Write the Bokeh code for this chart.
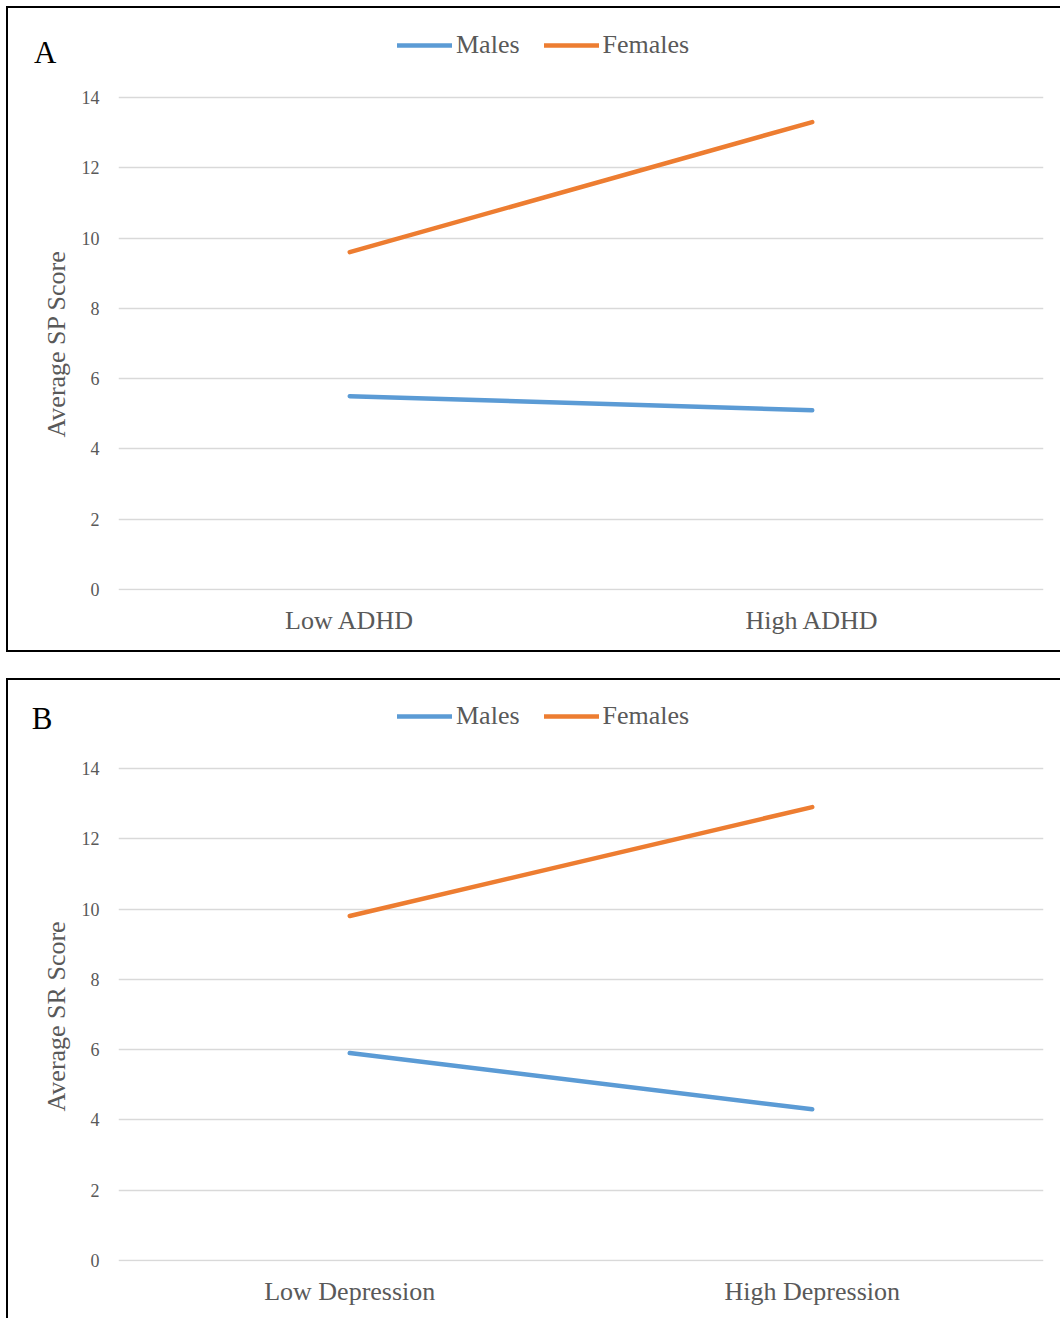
from bokeh.plotting import figure
from bokeh.models import (FactorRange, Range1d, FixedTicker, Legend, LegendItem, LinearAxis, Title)
from bokeh.layouts import column
from bokeh.embed import file_html
from bokeh.resources import INLINE

# ---- data ----
cats_a = ["Low ADHD", "High ADHD"]
males_a = [5.5, 5.1]
females_a = [9.6, 13.3]

cats_b = ["Low Depression", "High Depression"]
males_b = [5.9, 4.3]
females_b = [9.8, 12.9]

y_ticks = [0, 2, 4, 6, 8, 10, 12, 14]
series_names = ["Males", "Females"]
colors = ["#5B9BD5", "#ED7D31"]

FONT = "Liberation Serif"
GREY = "#595959"


def panel(cats, males, females, ylabel, ylabel_offset, letter, letter_y, letter_standoff,
          ytop, height, top, bottom, styles):
    p = figure(x_range=FactorRange(*cats, range_padding=0), y_range=Range1d(-0.03, ytop),
               width=1054, height=height, output_backend="svg", toolbar_location=None,
               title=None,
               min_border_left=110, min_border_right=19, min_border_top=top,
               min_border_bottom=bottom)
    p.outline_line_color = None
    p.styles = styles
    r1 = p.line(cats, males, line_color=colors[0], line_width=4.5, line_cap="round")
    r2 = p.line(cats, females, line_color=colors[1], line_width=4.5, line_cap="round")

    p.xgrid.grid_line_color = None
    p.ygrid.grid_line_color = "#d9d9d9"
    p.ygrid.grid_line_width = 1.5
    p.yaxis.ticker = FixedTicker(ticks=y_ticks)
    for ax in (p.xaxis, p.yaxis):
        ax.axis_line_color = None
        ax.major_tick_line_color = None
        ax.minor_tick_line_color = None
        ax.major_label_text_font = FONT
        ax.major_label_text_color = GREY
    p.yaxis.major_label_text_font_size = "18px"
    p.yaxis.major_label_standoff = 13
    p.xaxis.major_label_text_font_size = "26px"
    p.xaxis.major_label_standoff = 9

    # y-axis title, centred on the 0-14 band
    ytitle = Title(text=ylabel, align="left", offset=ylabel_offset, standoff=16,
                   text_font=FONT, text_font_size="26px", text_font_style="normal",
                   text_color=GREY)
    p.add_layout(ytitle, "left")

    # panel letter, placed through the y scale
    lax = LinearAxis(ticker=FixedTicker(ticks=[letter_y]),
                     major_label_overrides={letter_y: letter},
                     axis_line_color=None, major_tick_line_color=None,
                     minor_tick_line_color=None, major_label_standoff=letter_standoff,
                     major_label_text_font=FONT, major_label_text_font_size="31px",
                     major_label_text_color="black")
    p.add_layout(lax, "left")

    legend = Legend(items=[LegendItem(label=series_names[0], renderers=[r1]),
                           LegendItem(label=series_names[1], renderers=[r2])],
                    orientation="horizontal", location=(279, 530),
                    label_text_font=FONT, label_text_font_size="26px",
                    label_text_color=GREY, glyph_width=55, glyph_height=26,
                    label_height=26, label_standoff=4, spacing=24, padding=0, margin=0,
                    border_line_color=None, background_fill_alpha=0)
    p.add_layout(legend, "center")
    return p


pa = panel(cats_a, males_a, females_a, "Average SP Score", 153, "A", 15.27, -31, 16.076,
           646, 16, 64,
           {"border-left": "2px solid black", "border-top": "2px solid black",
            "border-bottom": "2px solid black", "margin-left": "6px", "margin-top": "6px"})
pb = panel(cats_b, males_b, females_b, "Average SR Score", 150, "B", 15.42, -27, 16.047,
           640, 16, 59,
           {"border-left": "2px solid black", "border-top": "2px solid black",
            "margin-left": "6px"})

layout = column(pa, pb, spacing=26)
open("out.html", "w").write(file_html(layout, INLINE))
